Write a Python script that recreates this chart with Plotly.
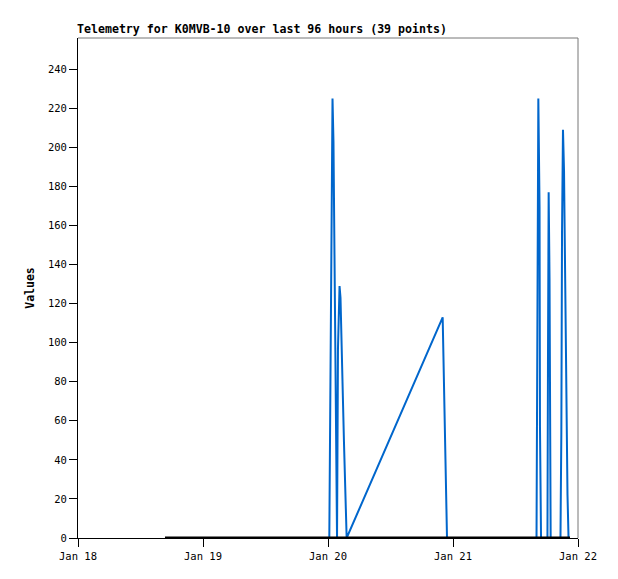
import plotly.graph_objects as go

# Blue telemetry series (time, value)
blue_times = [
    "2024-01-20 00:15", "2024-01-20 00:21", "2024-01-20 00:29", "2024-01-20 00:40",
    "2024-01-20 00:52", "2024-01-20 01:03", "2024-01-20 01:11", "2024-01-20 01:26",
    "2024-01-20 01:44", "2024-01-20 01:55", "2024-01-20 02:13", "2024-01-20 02:24",
    "2024-01-20 02:32", "2024-01-20 02:47", "2024-01-20 03:04", "2024-01-20 03:22",
    "2024-01-20 03:35",
    "2024-01-20 22:01", "2024-01-20 22:08", "2024-01-20 22:19", "2024-01-20 22:30",
    "2024-01-20 22:42", "2024-01-20 22:51",
    "2024-01-21 16:02", "2024-01-21 16:08", "2024-01-21 16:13", "2024-01-21 16:23",
    "2024-01-21 16:37", "2024-01-21 16:42", "2024-01-21 16:54",
    "2024-01-21 18:08", "2024-01-21 18:14", "2024-01-21 18:22", "2024-01-21 18:32",
    "2024-01-21 18:37", "2024-01-21 18:45",
    "2024-01-21 20:38", "2024-01-21 20:48", "2024-01-21 20:56", "2024-01-21 21:07",
    "2024-01-21 21:19", "2024-01-21 21:27", "2024-01-21 21:36", "2024-01-21 21:48",
    "2024-01-21 21:59", "2024-01-21 22:11",
]
blue_values = [
    0, 38, 113, 187, 225, 203, 158, 67, 0, 97, 129, 123, 102, 80, 49, 22, 0,
    113, 98, 71, 43, 15, 0,
    0, 57, 169, 225, 169, 57, 0,
    0, 89, 177, 133, 45, 0,
    0, 53, 157, 209, 188, 146, 105, 63, 22, 0,
]

# Black zero-valued series
black_times = ["2024-01-18 16:42", "2024-01-21 22:28"]
black_values = [0, 0]

x_range = ["2024-01-18 00:00", "2024-01-22 00:00"]
y_range = [0, 256]
y_tickvals = list(range(0, 241, 20))

title_text = "Telemetry for K0MVB-10 over last 96 hours (39 points)"
y_title = "Values"

fig = go.Figure()
fig.add_trace(go.Scatter(x=blue_times, y=blue_values, mode="lines",
                         line=dict(color="#0066CC", width=2), showlegend=False))
fig.add_trace(go.Scatter(x=black_times, y=black_values, mode="lines",
                         line=dict(color="#000000", width=3), showlegend=False))

mono = "DejaVu Sans Mono"
fig.update_layout(
    width=610, height=571,
    margin=dict(l=70, r=40, t=30, b=41),
    paper_bgcolor="white", plot_bgcolor="white",
    font=dict(family=mono, size=10.5, color="black"),
    showlegend=False,
)
fig.update_xaxes(
    type="date", range=x_range, dtick=86400000, tick0="2024-01-18",
    tickformat="%b %d", showgrid=False, zeroline=False,
    showline=True, linecolor="black", linewidth=1,
    ticks="outside", ticklen=8, tickcolor="black",
    tickfont=dict(family=mono, size=10.5),
)
fig.update_yaxes(
    range=y_range, tickvals=y_tickvals, showgrid=False, zeroline=False,
    showline=True, linecolor="black", linewidth=1,
    ticks="outside", ticklen=8, tickcolor="black",
    tickfont=dict(family=mono, size=10.5),
    title=dict(text="<b>" + y_title + "</b>", font=dict(family=mono, size=11.5), standoff=10),
)
# gray top and right frame
fig.add_shape(type="line", xref="paper", yref="paper", x0=0, x1=1, y0=1, y1=1,
              line=dict(color="#777777", width=1))
fig.add_shape(type="line", xref="paper", yref="paper", x0=1, x1=1, y0=0, y1=1,
              line=dict(color="#777777", width=1))
fig.add_annotation(text="<b>" + title_text + "</b>", xref="paper", yref="paper",
                   x=0, y=1, xanchor="left", yanchor="bottom", showarrow=False,
                   font=dict(family=mono, size=11.6, color="black"), xshift=-3, yshift=0)

fig.write_html("out.html")
